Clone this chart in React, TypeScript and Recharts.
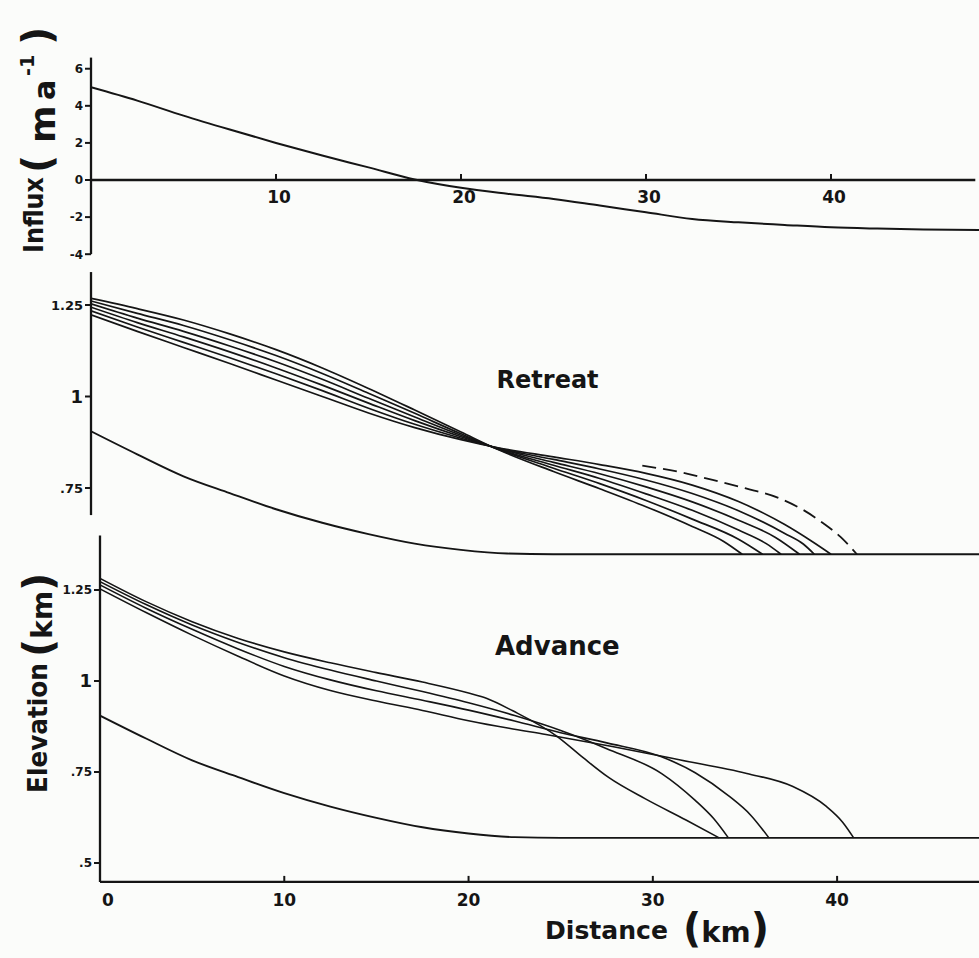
import React from 'react';
import { LineChart, Line, XAxis, YAxis, ReferenceLine, ReferenceDot } from 'recharts';

const FONT = '"DejaVu Sans", Verdana, sans-serif';
const INK = '#151515';
const BG = '#fbfcfa';
const W = 979;
const H = 958;

// ---------- tick values and labels ----------
const influxTicks = [-4, -2, 0, 2, 4, 6];
const influxTickLabels = ['-4', '-2', '0', '2', '4', '6'];
const distTicksTop = [10, 20, 30, 40];
const distTicksBottom = [0, 10, 20, 30, 40];
const distTickLabels = ['0', '10', '20', '30', '40'];
const retreatTicks = [0.75, 1, 1.25];
const retreatTickLabels = ['.75', '1', '1.25'];
const advanceTicks = [0.5, 0.75, 1, 1.25];
const advanceTickLabels = ['.5', '.75', '1', '1.25'];

// ---------- influx (m a-1) vs distance (km) ----------
const influx = [
  [0, 5.0], [2.5, 4.28], [5, 3.47], [7.5, 2.72], [10, 2.0], [12.5, 1.32], [15, 0.68],
  [17.5, 0.03], [20, -0.42], [22.5, -0.74], [25, -1.02], [27.5, -1.38], [30, -1.74],
  [32.5, -2.1], [35, -2.28], [37.5, -2.42], [40, -2.55], [42.5, -2.62], [45, -2.67], [48, -2.7],
];

// ---------- bed elevation (km) ----------
const bed = [
  [0, 0.905], [2.5, 0.842], [5, 0.782], [7.5, 0.736], [10, 0.692], [12.5, 0.655], [15, 0.624],
  [17.5, 0.598], [20, 0.581], [22.5, 0.571], [25, 0.569], [35, 0.569], [48, 0.569],
];

// ---------- retreat surface profiles ----------
const retreat1 = [
  [0, 1.268], [2.5, 1.24], [5, 1.209], [7.5, 1.171], [10, 1.128], [12.5, 1.078], [15, 1.022],
  [17.5, 0.963], [20, 0.903], [22, 0.855], [25, 0.795], [27.5, 0.748], [30, 0.699], [32.5, 0.645],
  [34.2, 0.604], [35.2, 0.569],
];
const retreat2 = [
  [0, 1.261], [2.5, 1.227], [5, 1.194], [7.5, 1.155], [10, 1.112], [12.5, 1.063], [15, 1.009],
  [17.5, 0.954], [20, 0.898], [22, 0.856], [25, 0.804], [27.5, 0.762], [30, 0.716], [32.5, 0.665],
  [35, 0.61], [36.3, 0.569],
];
const retreat3 = [
  [0, 1.253], [2.5, 1.214], [5, 1.178], [7.5, 1.138], [10, 1.095], [12.5, 1.047], [15, 0.995],
  [17.5, 0.944], [20, 0.894], [22, 0.857], [25, 0.812], [27.5, 0.776], [30, 0.734], [32.5, 0.689],
  [35, 0.635], [36.5, 0.598], [37.3, 0.569],
];
const retreat4 = [
  [0, 1.244], [2.5, 1.202], [5, 1.163], [7.5, 1.122], [10, 1.078], [12.5, 1.031], [15, 0.982],
  [17.5, 0.934], [20, 0.89], [22, 0.858], [25, 0.82], [27.5, 0.789], [30, 0.753], [32.5, 0.712],
  [35, 0.662], [37, 0.615], [38.3, 0.569],
];
const retreat5 = [
  [0, 1.234], [2.5, 1.19], [5, 1.148], [7.5, 1.106], [10, 1.062], [12.5, 1.016], [15, 0.968],
  [17.5, 0.924], [20, 0.886], [22, 0.859], [25, 0.828], [27.5, 0.802], [30, 0.772], [32.5, 0.735],
  [35, 0.688], [37.5, 0.626], [38.5, 0.597], [39.1, 0.569],
];
const retreat6 = [
  [0, 1.223], [2.5, 1.178], [5, 1.134], [7.5, 1.09], [10, 1.045], [12.5, 1.0], [15, 0.955],
  [17.5, 0.915], [20, 0.882], [22, 0.86], [25, 0.835], [27.5, 0.814], [30, 0.79], [32.5, 0.758],
  [35, 0.713], [37.5, 0.65], [39, 0.603], [40, 0.569],
];
const retreatDashed = [
  [29.8, 0.811], [31.8, 0.794], [33.6, 0.772], [35.4, 0.749], [37.2, 0.722], [38.5, 0.69],
  [39.6, 0.653], [40.5, 0.617], [41.4, 0.569],
];

// ---------- advance surface profiles ----------
const advance1 = [
  [0, 1.282], [2.5, 1.218], [5, 1.163], [7.5, 1.117], [10, 1.08], [12.5, 1.05], [15, 1.023],
  [17.5, 0.997], [20, 0.967], [21, 0.952], [22.4, 0.918], [24.8, 0.848], [26.2, 0.79],
  [27.6, 0.735], [29.6, 0.676], [31.8, 0.618], [33.6, 0.569],
];
const advance2 = [
  [0, 1.273], [2.5, 1.21], [5, 1.154], [7.5, 1.106], [10, 1.064], [12.5, 1.03], [15, 1.0],
  [17.5, 0.971], [20, 0.94], [22.5, 0.905], [25, 0.864], [27.5, 0.814], [30.5, 0.745],
  [32.3, 0.672], [33.3, 0.622], [34.1, 0.569],
];
const advance3 = [
  [0, 1.264], [2.5, 1.2], [5, 1.142], [7.5, 1.088], [10, 1.04], [12.5, 1.003], [15, 0.973],
  [17.5, 0.947], [20, 0.92], [22.5, 0.89], [25, 0.858], [27.5, 0.83], [30.4, 0.793],
  [32.3, 0.748], [34.1, 0.685], [35.3, 0.632], [36.3, 0.569],
];
const advance4 = [
  [0, 1.253], [2.5, 1.188], [5, 1.126], [7.5, 1.068], [10, 1.014], [12.5, 0.974], [15, 0.945],
  [17.5, 0.919], [20, 0.891], [22.2, 0.87], [24.2, 0.853], [27.8, 0.82], [31.5, 0.783],
  [35.1, 0.746], [37.6, 0.71], [39.4, 0.656], [40.3, 0.612], [40.9, 0.569],
];

const toPts = (pairs: number[][]) => pairs.map(([x, y]) => ({ x, y }));

const makeYTick = (ticks: number[], labels: string[], fs: number, bigFs: number) => (p: any) => {
  const v = p.payload.value;
  const i = ticks.indexOf(v);
  return (
    <text
      x={p.x}
      y={p.y}
      dy="0.36em"
      textAnchor="end"
      fontFamily={FONT}
      fontWeight={700}
      fontSize={v === 1 ? bigFs : fs}
      fill={INK}
    >
      {i >= 0 ? labels[i] : String(v)}
    </text>
  );
};

const BOTTOM_TICK_MARGIN = 4;
const BottomXTick = (p: any) => {
  const v = p.payload.value;
  const axisY = p.y - BOTTOM_TICK_MARGIN;
  const i = distTicksBottom.indexOf(v);
  return (
    <g>
      <line x1={p.x} x2={p.x} y1={axisY} y2={axisY - 6} stroke={INK} strokeWidth={2} />
      <text
        x={p.x + (v === 0 ? 8 : 0)}
        y={axisY + 18}
        dy="0.36em"
        textAnchor="middle"
        fontFamily={FONT}
        fontWeight={700}
        fontSize={17}
        fill={INK}
      >
        {i >= 0 ? distTickLabels[i] : String(v)}
      </text>
    </g>
  );
};

const TopXTick = (p: any) => {
  const { cx, cy, label } = p;
  return (
    <g>
      <line x1={cx} x2={cx} y1={cy} y2={cy - 6} stroke={INK} strokeWidth={2} />
      <text
        x={cx + 3}
        y={cy + 17}
        dy="0.36em"
        textAnchor="middle"
        fontFamily={FONT}
        fontWeight={700}
        fontSize={17}
        fill={INK}
      >
        {label}
      </text>
    </g>
  );
};

const PanelTitle = (text: string, fs: number) => (p: any) => (
  <text
    x={p.cx}
    y={p.cy}
    dy="0.36em"
    textAnchor="middle"
    fontFamily={FONT}
    fontWeight={700}
    fontSize={fs}
    fill={INK}
  >
    {text}
  </text>
);

const lineProps = {
  dataKey: 'y',
  type: 'monotone' as const,
  stroke: INK,
  dot: false,
  isAnimationActive: false,
  strokeLinejoin: 'round' as const,
};

const layer: React.CSSProperties = { position: 'absolute', left: 0, top: 0 };
const YW = 60; // reserved y-axis width
const XH = 30; // reserved x-axis height

export default function App() {
  const retreatSeries = [retreat1, retreat2, retreat3, retreat4, retreat5, retreat6];
  const advanceSeries = [advance1, advance2, advance3, advance4];
  return (
    <div style={{ position: 'absolute', left: 0, top: 0, width: W, height: H, background: BG, overflow: 'hidden' }}>
      {/* Influx panel */}
      <div style={layer}>
        <LineChart width={W} height={H} margin={{ top: 57.6, right: 0, bottom: H - 254.2, left: 91 - YW }}>
          <XAxis type="number" dataKey="x" domain={[0, 48]} hide allowDataOverflow />
          <YAxis
            type="number"
            domain={[-4, 6.6]}
            ticks={influxTicks}
            interval={0}
            width={YW}
            allowDataOverflow
            axisLine={{ stroke: INK, strokeWidth: 2.3 }}
            tickLine={{ stroke: INK, strokeWidth: 2 }}
            tickSize={6}
            tickMargin={2}
            tick={makeYTick(influxTicks, influxTickLabels, 12, 12)}
          />
          <ReferenceLine segment={[{ x: 0, y: 0 }, { x: 47.8, y: 0 }]} stroke={INK} strokeWidth={2.4} />
          {distTicksTop.map((t) => (
            <ReferenceDot
              key={t}
              x={t}
              y={0}
              r={0}
              shape={(p: any) => <TopXTick {...p} label={distTickLabels[distTicksBottom.indexOf(t)]} />}
            />
          ))}
          <Line {...lineProps} data={toPts(influx)} strokeWidth={2} />
        </LineChart>
      </div>

      {/* Retreat panel */}
      <div style={layer}>
        <LineChart width={W} height={H} margin={{ top: 272.06, right: 0, bottom: H - 561.2, left: 91 - YW }}>
          <XAxis type="number" dataKey="x" domain={[0, 48]} hide allowDataOverflow />
          <YAxis
            type="number"
            domain={[0.55, 1.34]}
            ticks={retreatTicks}
            interval={0}
            width={YW}
            allowDataOverflow
            axisLine={false}
            tickLine={{ stroke: INK, strokeWidth: 2 }}
            tickSize={6}
            tickMargin={2}
            tick={makeYTick(retreatTicks, retreatTickLabels, 13, 18)}
          />
          <ReferenceLine segment={[{ x: 0, y: 0.676 }, { x: 0, y: 1.34 }]} stroke={INK} strokeWidth={2.3} />
          <ReferenceDot x={24.68} y={1.048} r={0} shape={PanelTitle('Retreat', 24)} />
          <Line {...lineProps} data={toPts(bed)} strokeWidth={1.9} />
          {retreatSeries.map((s, i) => (
            <Line key={i} {...lineProps} data={toPts(s)} strokeWidth={1.7} />
          ))}
          <Line {...lineProps} data={toPts(retreatDashed)} strokeWidth={1.8} strokeDasharray="14 7" />
        </LineChart>
      </div>

      {/* Advance panel */}
      <div style={layer}>
        <LineChart width={W} height={H} margin={{ top: 535.4, right: 0, bottom: H - 881.9 - XH, left: 100 - YW }}>
          <XAxis
            type="number"
            dataKey="x"
            domain={[0, 47.7]}
            ticks={distTicksBottom}
            interval={0}
            height={XH}
            allowDataOverflow
            axisLine={{ stroke: INK, strokeWidth: 2.3 }}
            tickLine={false}
            tickSize={0}
            tickMargin={BOTTOM_TICK_MARGIN}
            tick={BottomXTick}
          />
          <YAxis
            type="number"
            domain={[0.448, 1.4]}
            ticks={advanceTicks}
            interval={0}
            width={YW}
            allowDataOverflow
            axisLine={{ stroke: INK, strokeWidth: 2.3 }}
            tickLine={{ stroke: INK, strokeWidth: 2 }}
            tickSize={6}
            tickMargin={2}
            tick={makeYTick(advanceTicks, advanceTickLabels, 12, 18)}
          />
          <ReferenceDot x={24.82} y={1.096} r={0} shape={PanelTitle('Advance', 26)} />
          <Line {...lineProps} data={toPts(bed)} strokeWidth={1.9} />
          {advanceSeries.map((s, i) => (
            <Line key={i} {...lineProps} data={toPts(s)} strokeWidth={1.6} />
          ))}
        </LineChart>
      </div>

      {/* Axis titles */}
      <svg width={W} height={H} style={{ ...layer, pointerEvents: 'none' }}>
        <g fontFamily={FONT} fontWeight={700} fill={INK}>
          <text transform="translate(43,253) rotate(-90)" fontSize={26} textLength={76} lengthAdjust="spacingAndGlyphs">
            Influx
          </text>
          <text transform="translate(51,173) rotate(-90)" fontSize={40}>(</text>
          <text transform="translate(55,143) rotate(-90)" fontSize={36}>m</text>
          <text transform="translate(55,100) rotate(-90)" fontSize={30}>a</text>
          <text transform="translate(34,76) rotate(-90)" fontSize={19}>-1</text>
          <text transform="translate(51,45) rotate(-90)" fontSize={40}>)</text>

          <text transform="translate(47,793) rotate(-90)" fontSize={26} textLength={130} lengthAdjust="spacingAndGlyphs">
            Elevation
          </text>
          <text transform="translate(52,657) rotate(-90)">
            <tspan fontSize={40}>(</tspan>
            <tspan fontSize={28}>km</tspan>
            <tspan fontSize={40}>)</tspan>
          </text>

          <text x={545} y={939} fontSize={24} textLength={123} lengthAdjust="spacingAndGlyphs">
            Distance
          </text>
          <text x={683} y={942}>
            <tspan fontSize={40}>(</tspan>
            <tspan fontSize={29}>km</tspan>
            <tspan fontSize={40}>)</tspan>
          </text>
        </g>
      </svg>
    </div>
  );
}
